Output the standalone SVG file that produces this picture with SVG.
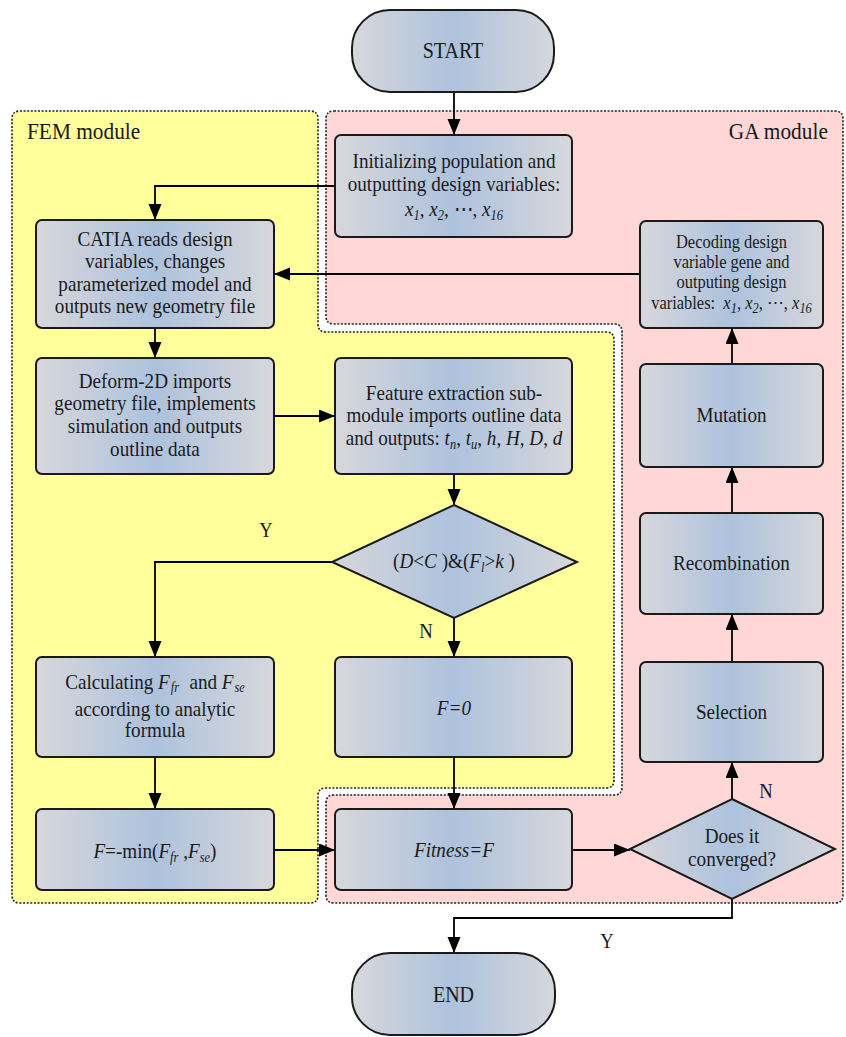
<svg xmlns="http://www.w3.org/2000/svg" width="846" height="1037" viewBox="0 0 846 1037">
<defs>
<linearGradient id="g" x1="0" y1="0" x2="1" y2="0">
<stop offset="0" stop-color="#d7d7db"/>
<stop offset="0.5" stop-color="#adc2dd"/>
<stop offset="1" stop-color="#d6d7db"/>
</linearGradient>
<marker id="ah" markerUnits="userSpaceOnUse" markerWidth="17" markerHeight="14" refX="16" refY="6.5" orient="auto"><path d="M0,0 L16,6.5 L0,13 Z" fill="#000"/></marker>
<style>
.box{fill:url(#g);stroke:#1a1a1a;stroke-width:2}
.mod{stroke:#222;stroke-width:1.6;stroke-dasharray:2 1.6}
text{font-family:"Liberation Serif","Times New Roman",serif;fill:#1a1a1a;font-size:21.5px;transform-box:fill-box;transform-origin:center;transform:scaleX(0.89)}
.c{text-anchor:middle}
.i{font-style:italic}
.sub{font-size:14px}
.sm{font-size:18.5px}
.lbl{font-size:21px}
.big{font-size:22.5px}
.conn path{fill:none;stroke:#000;stroke-width:1.8;marker-end:url(#ah)}
</style>
</defs>
<rect width="846" height="1037" fill="#fff"/>
<g id="fem-module">
<path class="mod" fill="#ffff9c" d="M20,111 H310 Q318,111 318,119 V324 Q318,332 326,332 H606 Q614,332 614,340 V780 Q614,788 606,788 H326 Q318,788 318,796 V895 Q318,903 310,903 H20 Q12,903 12,895 V119 Q12,111 20,111 Z"/>
<text x="20" y="139" style="font-size:24px">FEM module</text>
</g>
<g id="ga-module">
<path class="mod" fill="#ffd7d7" d="M334,111 H835 Q843,111 843,119 V895 Q843,903 835,903 H334 Q326,903 326,895 V803 Q326,795 334,795 H614 Q622,795 622,787 V332 Q622,324 614,324 H334 Q326,324 326,316 V119 Q326,111 334,111 Z"/>
<text x="834" y="139" style="font-size:24px;text-anchor:end">GA module</text>
</g>
<g class="conn" id="connectors">
<path d="M454,92 V135"/>
<path d="M335,186 H155 V220"/>
<path d="M640,274 H274"/>
<path d="M155,328 V358"/>
<path d="M274,416 H335"/>
<path d="M454,474 V505"/>
<path d="M332,562 H155 V657"/>
<path d="M454,618 V657"/>
<path d="M155,757 V809"/>
<path d="M454,757 V809"/>
<path d="M274,850 H335"/>
<path d="M572,850 H630"/>
<path d="M732,799 V762"/>
<path d="M732,662 V614"/>
<path d="M732,513 V467"/>
<path d="M732,364 V328"/>
<path d="M732,899 V918 H454 V953"/>
<text class="lbl c" x="266" y="537">Y</text>
<text class="lbl c" x="426" y="638">N</text>
<text class="lbl c" x="766" y="798">N</text>
<text class="lbl c" x="607" y="948">Y</text>
</g>
<g id="start">
<rect class="box" x="352" y="10" width="202" height="82" rx="38"/>
<text class="c big" x="453" y="58">START</text>
</g>
<g id="init">
<rect class="box" x="335" y="135" width="237" height="102" rx="6"/>
<text class="c" x="454" y="168">Initializing population and</text>
<text class="c" x="454" y="191">outputting design variables:</text>
<text class="c" x="454" y="216"><tspan class="i">x</tspan><tspan class="i sub" dy="4">1</tspan><tspan dy="-4">, </tspan><tspan class="i">x</tspan><tspan class="i sub" dy="4">2</tspan><tspan dy="-4">, ⋯, </tspan><tspan class="i">x</tspan><tspan class="i sub" dy="4">16</tspan></text>
</g>
<g id="catia">
<rect class="box" x="36" y="220" width="238" height="108" rx="6"/>
<text class="c" x="155" y="246">CATIA reads design</text>
<text class="c" x="155" y="268.5">variables, changes</text>
<text class="c" x="155" y="291">parameterized model and</text>
<text class="c" x="155" y="313.5">outputs new geometry file</text>
</g>
<g id="decoding">
<rect class="box" x="640" y="221" width="183" height="107" rx="6"/>
<text class="c sm" x="731.5" y="248">Decoding design</text>
<text class="c sm" x="731.5" y="268">variable gene and</text>
<text class="c sm" x="731.5" y="288">outputing design</text>
<text class="c sm" x="731.5" y="309">variables:&#160; <tspan class="i">x</tspan><tspan class="i sub" dy="4">1</tspan><tspan dy="-4">, </tspan><tspan class="i">x</tspan><tspan class="i sub" dy="4">2</tspan><tspan dy="-4">, ⋯, </tspan><tspan class="i">x</tspan><tspan class="i sub" dy="4">16</tspan></text>
</g>
<g id="deform">
<rect class="box" x="36" y="358" width="238" height="116" rx="6"/>
<text class="c" x="155" y="388">Deform-2D imports</text>
<text class="c" x="155" y="410.5">geometry file, implements</text>
<text class="c" x="155" y="433">simulation and outputs</text>
<text class="c" x="155" y="456">outline data</text>
</g>
<g id="feature">
<rect class="box" x="335" y="358" width="237" height="116" rx="6"/>
<text class="c" x="454" y="400">Feature extraction sub-</text>
<text class="c" x="454" y="422">module imports outline data</text>
<text class="c" x="454" y="445">and outputs: <tspan class="i">t</tspan><tspan class="i sub" dy="4">n</tspan><tspan dy="-4">, </tspan><tspan class="i">t</tspan><tspan class="i sub" dy="4">u</tspan><tspan dy="-4">, </tspan><tspan class="i">h</tspan>, <tspan class="i">H</tspan>, <tspan class="i">D</tspan>, <tspan class="i">d</tspan></text>
</g>
<g id="mutation">
<rect class="box" x="640" y="364" width="183" height="103" rx="6"/>
<text class="c" x="731.5" y="422">Mutation</text>
</g>
<g id="condition">
<polygon class="box" points="454,505 577,562 454,618 332,562"/>
<text class="c" x="454" y="568">(<tspan class="i">D</tspan>&lt;<tspan class="i">C</tspan> )&amp;(<tspan class="i">F</tspan><tspan class="i sub" dy="4">l</tspan><tspan dy="-4">&gt;</tspan><tspan class="i">k</tspan> )</text>
</g>
<g id="recombination">
<rect class="box" x="640" y="513" width="183" height="101" rx="6"/>
<text class="c" x="731.5" y="570">Recombination</text>
</g>
<g id="calculating">
<rect class="box" x="36" y="657" width="238" height="100" rx="6"/>
<text class="c" x="155" y="689">Calculating <tspan class="i">F</tspan><tspan class="i sub" dx="1" dy="3">fr</tspan><tspan dx="1" dy="-3">&#160; and </tspan><tspan class="i">F</tspan><tspan class="i sub" dx="1" dy="3">se</tspan></text>
<text class="c" x="155" y="716">according to analytic</text>
<text class="c" x="155" y="737">formula</text>
</g>
<g id="f-zero">
<rect class="box" x="335" y="657" width="237" height="100" rx="6"/>
<text class="c i" x="454" y="715">F=0</text>
</g>
<g id="selection">
<rect class="box" x="640" y="662" width="183" height="100" rx="6"/>
<text class="c" x="731.5" y="719">Selection</text>
</g>
<g id="f-min">
<rect class="box" x="36" y="809" width="238" height="81" rx="6"/>
<text class="c" x="155" y="858"><tspan class="i">F</tspan>=-min(<tspan class="i">F</tspan><tspan class="i sub" dy="4">fr</tspan><tspan dy="-4">&#160;,</tspan><tspan class="i">F</tspan><tspan class="i sub" dy="4">se</tspan><tspan dy="-4">)</tspan></text>
</g>
<g id="fitness">
<rect class="box" x="335" y="809" width="237" height="81" rx="6"/>
<text class="c i" x="454" y="857">Fitness=F</text>
</g>
<g id="converged">
<polygon class="box" points="732,799 835,849 732,899 630,849"/>
<text class="c" x="732" y="843">Does it</text>
<text class="c" x="732" y="866">converged?</text>
</g>
<g id="end">
<rect class="box" x="352" y="953" width="203" height="82" rx="38"/>
<text class="c big" x="453.5" y="1002">END</text>
</g>
</svg>
